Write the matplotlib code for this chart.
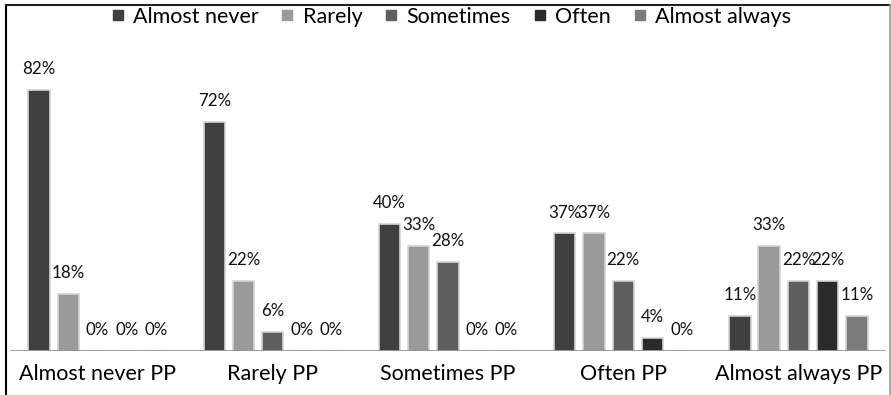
import numpy as np
import matplotlib
matplotlib.use("Agg")
import matplotlib.pyplot as plt
from matplotlib.lines import Line2D

plt.rcParams['font.family'] = ['Lato', 'DejaVu Sans']

categories = ["Almost never PP", "Rarely PP", "Sometimes PP", "Often PP", "Almost always PP"]
series = ["Almost never", "Rarely", "Sometimes", "Often", "Almost always"]
almost_never = [82, 72, 40, 37, 11]
rarely = [18, 22, 33, 37, 33]
sometimes = [0, 6, 28, 22, 22]
often = [0, 0, 0, 4, 22]
almost_always = [0, 0, 0, 0, 11]

values = [almost_never, rarely, sometimes, often, almost_always]
colors = ["#3f3f3f", "#9a9a9a", "#5f5f5f", "#2a2a2a", "#7b7b7b"]

fig = plt.figure(figsize=(8.91, 3.95), dpi=100)
ax = fig.add_axes([10 / 891, 44 / 395, 876 / 891, 346 / 395])

x = np.arange(len(categories))
pitch = 0.167
width = 0.122
for i, (vals, col) in enumerate(zip(values, colors)):
    pos = x + (i - 2) * pitch
    bars = ax.bar(pos, vals, width, color=col, edgecolor="#d4d4d4", linewidth=1.2, zorder=2)
    for b, v in zip(bars, vals):
        ax.annotate(f"{v}%", (b.get_x() + b.get_width() / 2, v),
                    xytext=(0, 15), textcoords="offset points",
                    ha="center", va="center", fontsize=12.2, color="#111111")

ax.set_xlim(-0.5, len(categories) - 0.5)
ax.set_ylim(0, 108.8)
ax.axhline(0, color="#8c8c8c", linewidth=1.2, zorder=3)
ax.set_xticks(x)
ax.set_xticklabels(categories, fontsize=15.5, color="#000000")
ax.tick_params(axis="x", length=0, pad=9)
ax.set_yticks([])
for s in ax.spines.values():
    s.set_visible(False)

handles = [Line2D([], [], marker="s", linestyle="", markersize=7, color=c) for c in colors]
fig.legend(handles, series, loc="center", bbox_to_anchor=(0.503, 1 - 17 / 395), ncol=5,
           frameon=False, fontsize=15.5, handletextpad=0.15, columnspacing=0.8,
           handlelength=1.1)

# thin frame round the chart
fig.add_artist(Line2D([6 / 891, 6 / 891], [0, 1 - 5 / 395], color="black", linewidth=1.5, transform=fig.transFigure))
fig.add_artist(Line2D([6 / 891, 890 / 891], [1 - 5 / 395, 1 - 5 / 395], color="#222222", linewidth=1.5, transform=fig.transFigure))
fig.add_artist(Line2D([889.5 / 891, 889.5 / 891], [0, 1 - 5 / 395], color="#999999", linewidth=1.2, transform=fig.transFigure))

fig.savefig("out.png", dpi=100)
